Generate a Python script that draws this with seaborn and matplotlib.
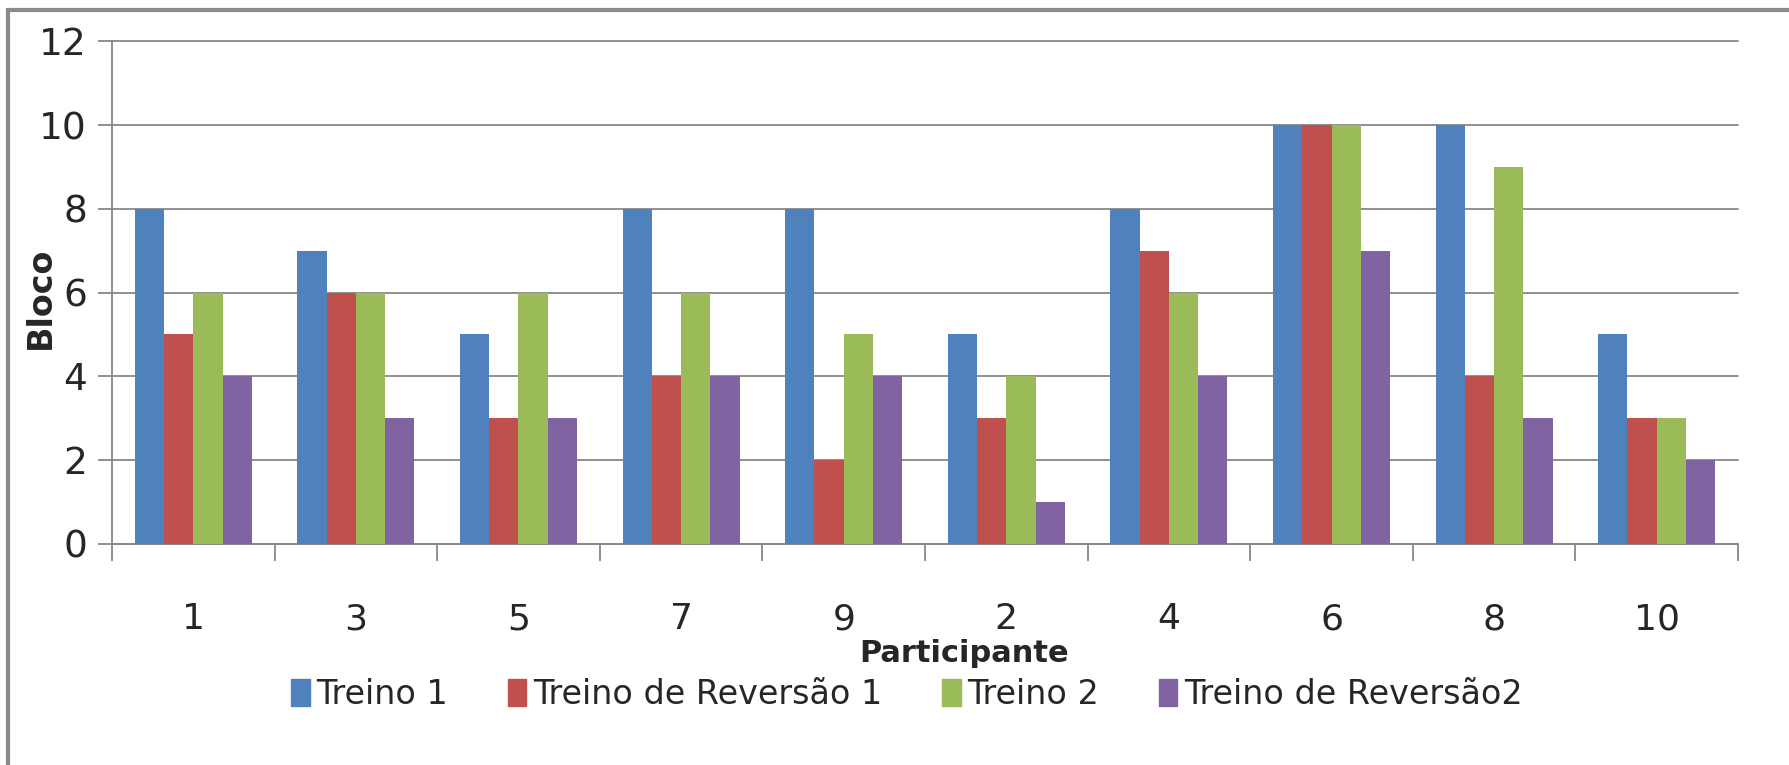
import pandas as pd
import seaborn as sns
import matplotlib.pyplot as plt
from matplotlib.patches import Rectangle

participantes = ["1", "3", "5", "7", "9", "2", "4", "6", "8", "10"]
treino1 = [8, 7, 5, 8, 8, 5, 8, 10, 10, 5]
reversao1 = [5, 6, 3, 4, 2, 3, 7, 10, 4, 3]
treino2 = [6, 6, 6, 6, 5, 4, 6, 10, 9, 3]
reversao2 = [4, 3, 3, 4, 4, 1, 4, 7, 3, 2]
series = ["Treino 1", "Treino de Reversão 1", "Treino 2", "Treino de Reversão2"]
cores = ["#4F81BD", "#C0504D", "#9BBB59", "#8064A2"]

linhas = []
for nome, vals in zip(series, [treino1, reversao1, treino2, reversao2]):
    for p, v in zip(participantes, vals):
        linhas.append({"Participante": p, "Bloco": v, "Fase": nome})
df = pd.DataFrame(linhas)

sns.set_style("white")
plt.rcParams["font.family"] = ["DejaVu Sans"]

fig = plt.figure(figsize=(17.89, 7.65), dpi=100)
ax = fig.add_axes([0.0626, 0.289, 0.9089, 0.657])

sns.barplot(data=df, x="Participante", y="Bloco", hue="Fase", order=participantes,
            hue_order=series, palette=cores, width=0.72, gap=0, saturation=1,
            edgecolor="none", legend=False, ax=ax, zorder=3)

ax.set_ylim(0, 12)
ax.set_xlim(-0.5, len(participantes) - 0.5)
ax.set_yticks(range(0, 13, 2))
ax.yaxis.grid(True, color="#878787", linewidth=1.3)
for gl in ax.get_ygridlines():
    gl.set_clip_on(False)
ax.set_axisbelow(True)
for s in ["top", "right"]:
    ax.spines[s].set_visible(False)
for s in ["left", "bottom"]:
    ax.spines[s].set_color("#878787")
    ax.spines[s].set_linewidth(1.3)

ax.set_xticks(range(len(participantes)))
ax.set_xticklabels(participantes)
ax.set_xticks([i - 0.5 for i in range(len(participantes) + 1)], minor=True)
ax.tick_params(axis="x", which="major", bottom=False, length=0, pad=42, labelsize=26)
ax.tick_params(axis="x", which="minor", bottom=True, length=12, width=1.3,
               color="#878787", direction="out")
ax.tick_params(axis="y", which="major", left=True, length=10, width=1.3, color="#878787",
               direction="out", labelsize=27, pad=8)

ax.set_xlabel("Participante", fontsize=22, fontweight="bold")
ax.xaxis.set_label_coords(0.524, -0.19)
ax.set_ylabel("Bloco", fontsize=24, fontweight="bold")
ax.yaxis.set_label_coords(-0.034, 0.49)

handles = [plt.Rectangle((0, 0), 1, 1, color=c) for c in cores]
fig.legend(handles, series, loc="center", bbox_to_anchor=(0.507, 0.092), ncol=4,
           frameon=False, fontsize=24, handlelength=0.55, handleheight=0.9,
           handletextpad=0.2, columnspacing=1.8)

fig.patches.append(Rectangle((8 / 1789, -0.05), 1.1, 1 - 10 / 765 + 0.05,
                             transform=fig.transFigure, fill=False,
                             edgecolor="#8a8a8a", linewidth=3))

fig.savefig("out.png", dpi=100)
